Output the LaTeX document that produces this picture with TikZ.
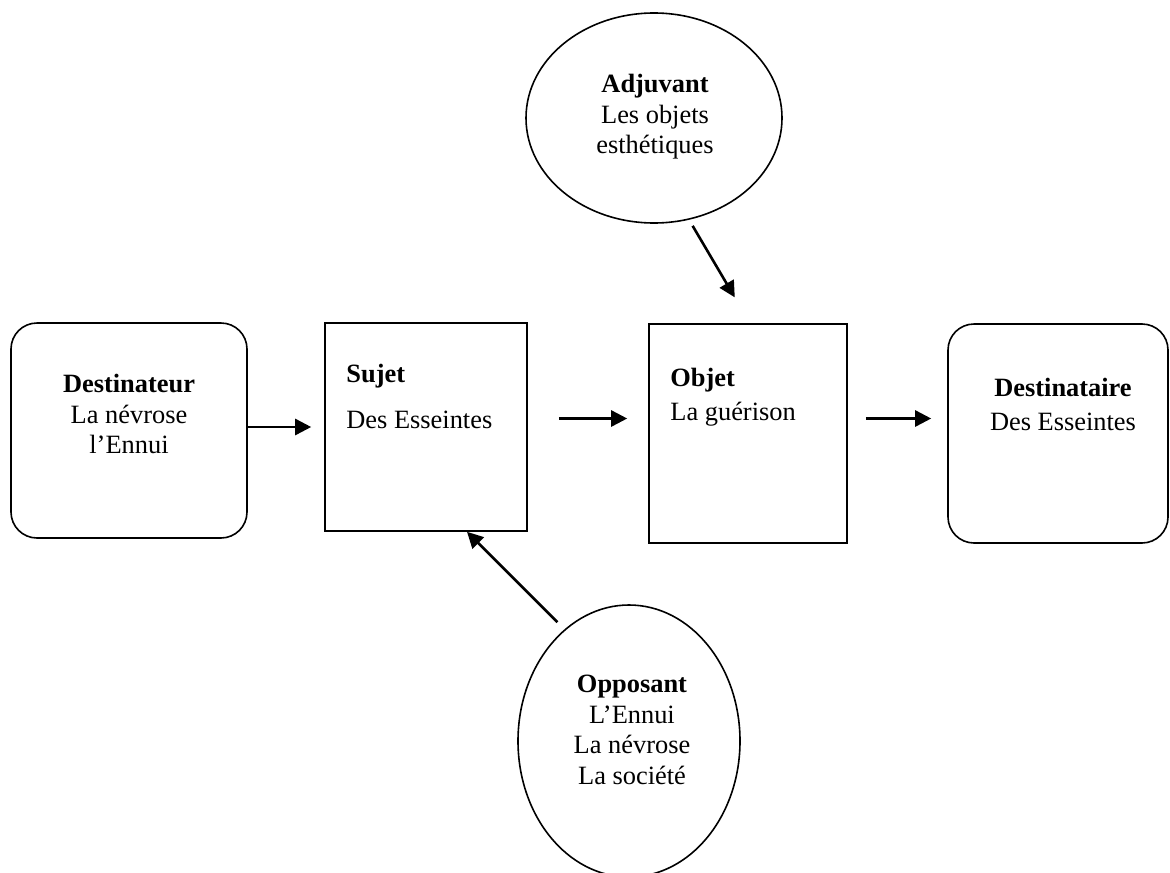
\documentclass[tikz,border=0pt]{standalone}
\usepackage{fontspec}
\setmainfont{Liberation Serif}
\usetikzlibrary{arrows.meta,shapes.geometric}

\begin{document}
\begin{tikzpicture}[
    x=0.5pt, y=-0.5pt,
    boxed/.style={draw, line width=0.8pt, inner sep=0pt},
    rounded/.style={boxed, rounded corners=13pt},
    bubble/.style={draw, ellipse, line width=0.8pt, inner sep=0pt},
    words/.style={font=\fontsize{13.2}{15.2}\selectfont, inner sep=0pt, align=center},
    link/.style={line width=1.3pt, -{Triangle[length=8pt, width=8pt]}},
]
    \useasboundingbox (0,0) rectangle (1170,872);

    \node[rounded, minimum width=118pt, minimum height=107.5pt] (dest) at (129,430.5) {};
    \node[boxed, minimum width=101pt, minimum height=104pt] (sujet) at (426,427) {};
    \node[boxed, minimum width=99pt, minimum height=109.5pt] (objet) at (748,433.5) {};
    \node[rounded, minimum width=110pt, minimum height=109.5pt] (destre) at (1058,433.5) {};
    \node[bubble, minimum width=128pt, minimum height=105pt] (adj) at (654,118) {};
    \node[bubble, minimum width=111pt, minimum height=136pt] (opp) at (629,741) {};

    \node[words, anchor=north] (destTxt) at (129,374) {\textbf{Destinateur}\\La névrose\\l’Ennui};
    \node[words, anchor=north west, align=left] (sujetTxt) at (346,364) {\textbf{Sujet}\\[7.5pt]Des Esseintes};
    \node[words, anchor=north west, align=left] (objetTxt) at (670,368) {\textbf{Objet}\\[1.5pt]La guérison};
    \node[words, anchor=north] (destreTxt) at (1063,378) {\textbf{Destinataire}\\[1.5pt]Des Esseintes};
    \node[words, anchor=north] (adjTxt) at (655,74) {\textbf{Adjuvant}\\Les objets\\esthétiques};
    \node[words, anchor=north] (oppTxt) at (632,675) {\textbf{Opposant}\\L’Ennui\\La névrose\\La société};

    \coordinate (lane) at (0,418.5);

    \draw[link, shorten >=6.5pt] (dest.east |- sujet.west) -- (sujet.west);
    \draw[link, shorten <=15.5pt, shorten >=10.5pt] (sujet.east |- lane) -- (objet.west |- lane);
    \draw[link, shorten <=9pt, shorten >=8pt] (objet.east |- lane) -- (destre.west |- lane);
    \draw[link, shorten <=3.5pt, shorten >=15pt] (adj.-71) -- ([xshift=1pt]objet.north);
    \draw[link, shorten <=5pt] (opp.120) -- ([xshift=20.5pt]sujet.south);
\end{tikzpicture}
\end{document}
